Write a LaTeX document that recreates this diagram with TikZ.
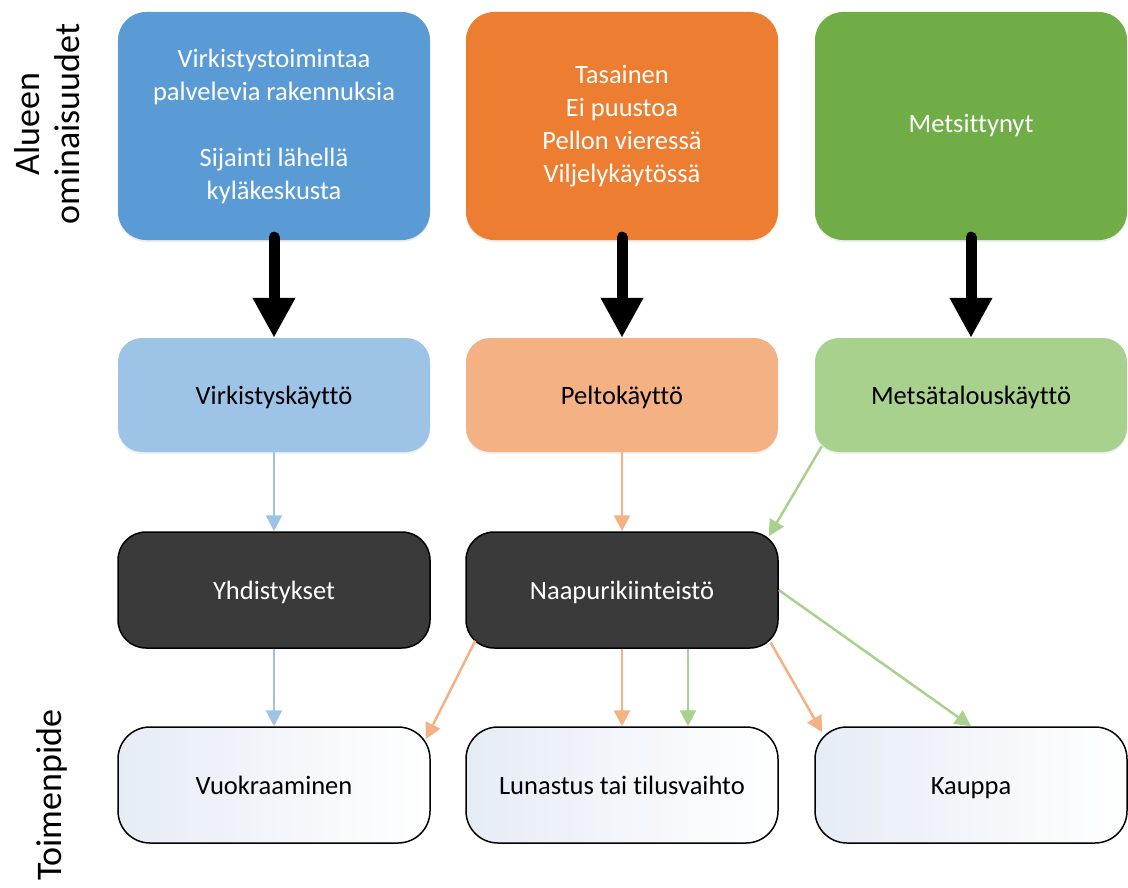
\documentclass[tikz,border=0pt]{standalone}
\usepackage{fontspec}
\setmainfont{Carlito}[Ligatures=NoCommon]
\usetikzlibrary{arrows.meta,calc,shadows}
\definecolor{cblue}{HTML}{5B9BD5}
\definecolor{corange}{HTML}{ED7D31}
\definecolor{cgreen}{HTML}{70AD47}
\definecolor{lblue}{HTML}{9DC3E6}
\definecolor{lorange}{HTML}{F4B183}
\definecolor{lgreen}{HTML}{A9D18E}
\definecolor{cdark}{HTML}{3A3A3A}
\definecolor{cpale}{HTML}{E6ECF5}
\begin{document}
\begin{tikzpicture}[x=1pt,y=-1pt,
  box/.style={rectangle, rounded corners=28pt, minimum width=312pt, align=center,
    font=\fontsize{26.5}{33}\selectfont, inner sep=0pt},
  oneline/.style={text height=21pt, text depth=3pt},
  topbox/.style={box, minimum height=228pt, text=white,
    drop shadow={opacity=0.15, shadow xshift=0pt, shadow yshift=-2pt}},
  midbox/.style={box, oneline, minimum height=114pt, text=black, rounded corners=24pt,
    drop shadow={opacity=0.12, shadow xshift=0pt, shadow yshift=-2pt}},
  darkbox/.style={box, oneline, minimum height=116pt, fill=cdark, draw=black, line width=1.5pt, text=white},
  actbox/.style={box, oneline, minimum height=116pt, draw=black, line width=1.5pt, rounded corners=32pt,
    left color=cpale, right color=white, text=black},
  bigarrow/.style={line width=11pt, line cap=round, -{Triangle[width=40pt,length=40pt]}},
  thinarrow/.style={line width=2.5pt, -{Triangle[width=16pt,length=16pt]}},
  side/.style={font=\fontsize{36}{40}\selectfont, rotate=90, align=center, inner sep=0pt}
]
\useasboundingbox (0,0) rectangle (1128,888);

% side labels
\node[side] (lab1) at (47,124) {Alueen\\ominaisuudet};
\node[side] (lab2) at (52,795) {Toimenpide};

% top row
\node[topbox, fill=cblue] (t1) at (274,126) {Virkistystoimintaa\\palvelevia rakennuksia\\[33pt]Sijainti lähellä\\kyläkeskusta};
\node[topbox, fill=corange] (t2) at (622,126) {Tasainen\\Ei puustoa\\Pellon vieressä\\Viljelykäytössä};
\node[topbox, fill=cgreen] (t3) at (971,126) {Metsittynyt};

% middle row
\node[midbox, fill=lblue] (m1) at (274,395) {Virkistyskäyttö};
\node[midbox, fill=lorange] (m2) at (622,395) {Peltokäyttö};
\node[midbox, fill=lgreen] (m3) at (971,395) {Metsätalouskäyttö};

% dark row
\node[darkbox] (d1) at (274,590) {Yhdistykset};
\node[darkbox] (d2) at (622,590) {Naapurikiinteistö};

% bottom row
\node[actbox] (b1) at (274,785) {Vuokraaminen};
\node[actbox] (b2) at (622,785) {Lunastus tai tilusvaihto};
\node[actbox] (b3) at (971,785) {Kauppa};

% big arrows
\draw[bigarrow] ($(t1.south)+(0,-3)$) -- (m1.north);
\draw[bigarrow] ($(t2.south)+(0,-3)$) -- (m2.north);
\draw[bigarrow] ($(t3.south)+(0,-3)$) -- (m3.north);

% thin arrows
\draw[thinarrow, lblue] (m1.south) -- (d1.north);
\draw[thinarrow, lblue] (d1.south) -- (b1.north);
\draw[thinarrow, lorange] (m2.south) -- (d2.north);
\draw[thinarrow, lgreen] ($(m3.south west)+(7,-6)$) -- ($(d2.north east)+(-10,5)$);
\draw[thinarrow, lorange] ($(d2.south west)+(10,-8)$) -- ($(b1.north east)+(-5,13)$);
\draw[thinarrow, lorange] (d2.south) -- (b2.north);
\draw[thinarrow, lgreen] ($(d2.south)+(66,0)$) -- ($(b2.north)+(66,0)$);
\draw[thinarrow, lorange] ($(d2.south east)+(-8,-6)$) -- ($(b3.north west)+(8,6)$);
\draw[thinarrow, lgreen] (d2.east) -- (b3.north);
\end{tikzpicture}
\end{document}
